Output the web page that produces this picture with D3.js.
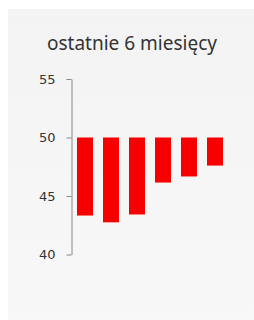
<!DOCTYPE html>
<html lang="en">
  <head>
    <meta charset="UTF-8" />
    <title>ostatnie 6 miesięcy</title>
    <style>
      body { margin: 0; background: #fff; }
      svg { display: block; }
    </style>
  </head>
  <body>
    <svg id="svg" width="254" height="320"></svg>
    <script src="https://cdn.jsdelivr.net/npm/d3@7"></script>
    <script>
      // chart data
      const months = ["m1", "m2", "m3", "m4", "m5", "m6"];
      const baseValue = 50;
      const values = [43.33, 42.75, 43.42, 46.15, 46.67, 47.6];
      const yTicks = [40, 45, 50, 55];

      const svg = d3.select("#svg");

      // gradient panel background
      const grad = svg.append("defs").append("linearGradient")
        .attr("id", "bg").attr("x1", 0).attr("y1", 0).attr("x2", 0).attr("y2", 1);
      grad.append("stop").attr("offset", "0%").attr("stop-color", "#f3f3f3");
      grad.append("stop").attr("offset", "100%").attr("stop-color", "#f8f8f8");

      svg.append("rect")
        .attr("x", 8).attr("y", 9)
        .attr("width", 246).attr("height", 311)
        .attr("fill", "url(#bg)");

      // title
      svg.append("text")
        .attr("x", 132).attr("y", 50)
        .attr("text-anchor", "middle")
        .style("font", "19px 'Noto Sans', sans-serif")
        .attr("fill", "#333")
        .text("ostatnie 6 miesięcy");

      // scales
      const x = d3.scaleBand()
        .domain(months)
        .range([67, 233])
        .padding(10 / 26);

      const y = d3.scaleLinear()
        .domain([40, 55])
        .range([254.5, 79]);

      // y axis
      const yaxis = svg.append("g")
        .attr("transform", "translate(71.5,0)")
        .call(d3.axisLeft(y).tickValues(yTicks).tickSize(5).tickPadding(11).tickSizeOuter(0));
      yaxis.select(".domain").attr("stroke", "#888");
      yaxis.selectAll(".tick line").attr("stroke", "#888");
      yaxis.selectAll("text")
        .attr("fill", "#333")
        .style("font-family", "'DejaVu Sans', sans-serif")
        .style("font-size", "13px");

      // bars hanging from the base value
      svg.selectAll(".bar")
        .data(values)
        .enter()
        .append("rect")
        .attr("class", "bar")
        .attr("x", (d, i) => x(months[i]))
        .attr("y", (d) => y(Math.max(d, baseValue)))
        .attr("width", x.bandwidth())
        .attr("height", (d) => Math.abs(y(d) - y(baseValue)))
        .attr("fill", "#f70000");
    </script>
  </body>
</html>
